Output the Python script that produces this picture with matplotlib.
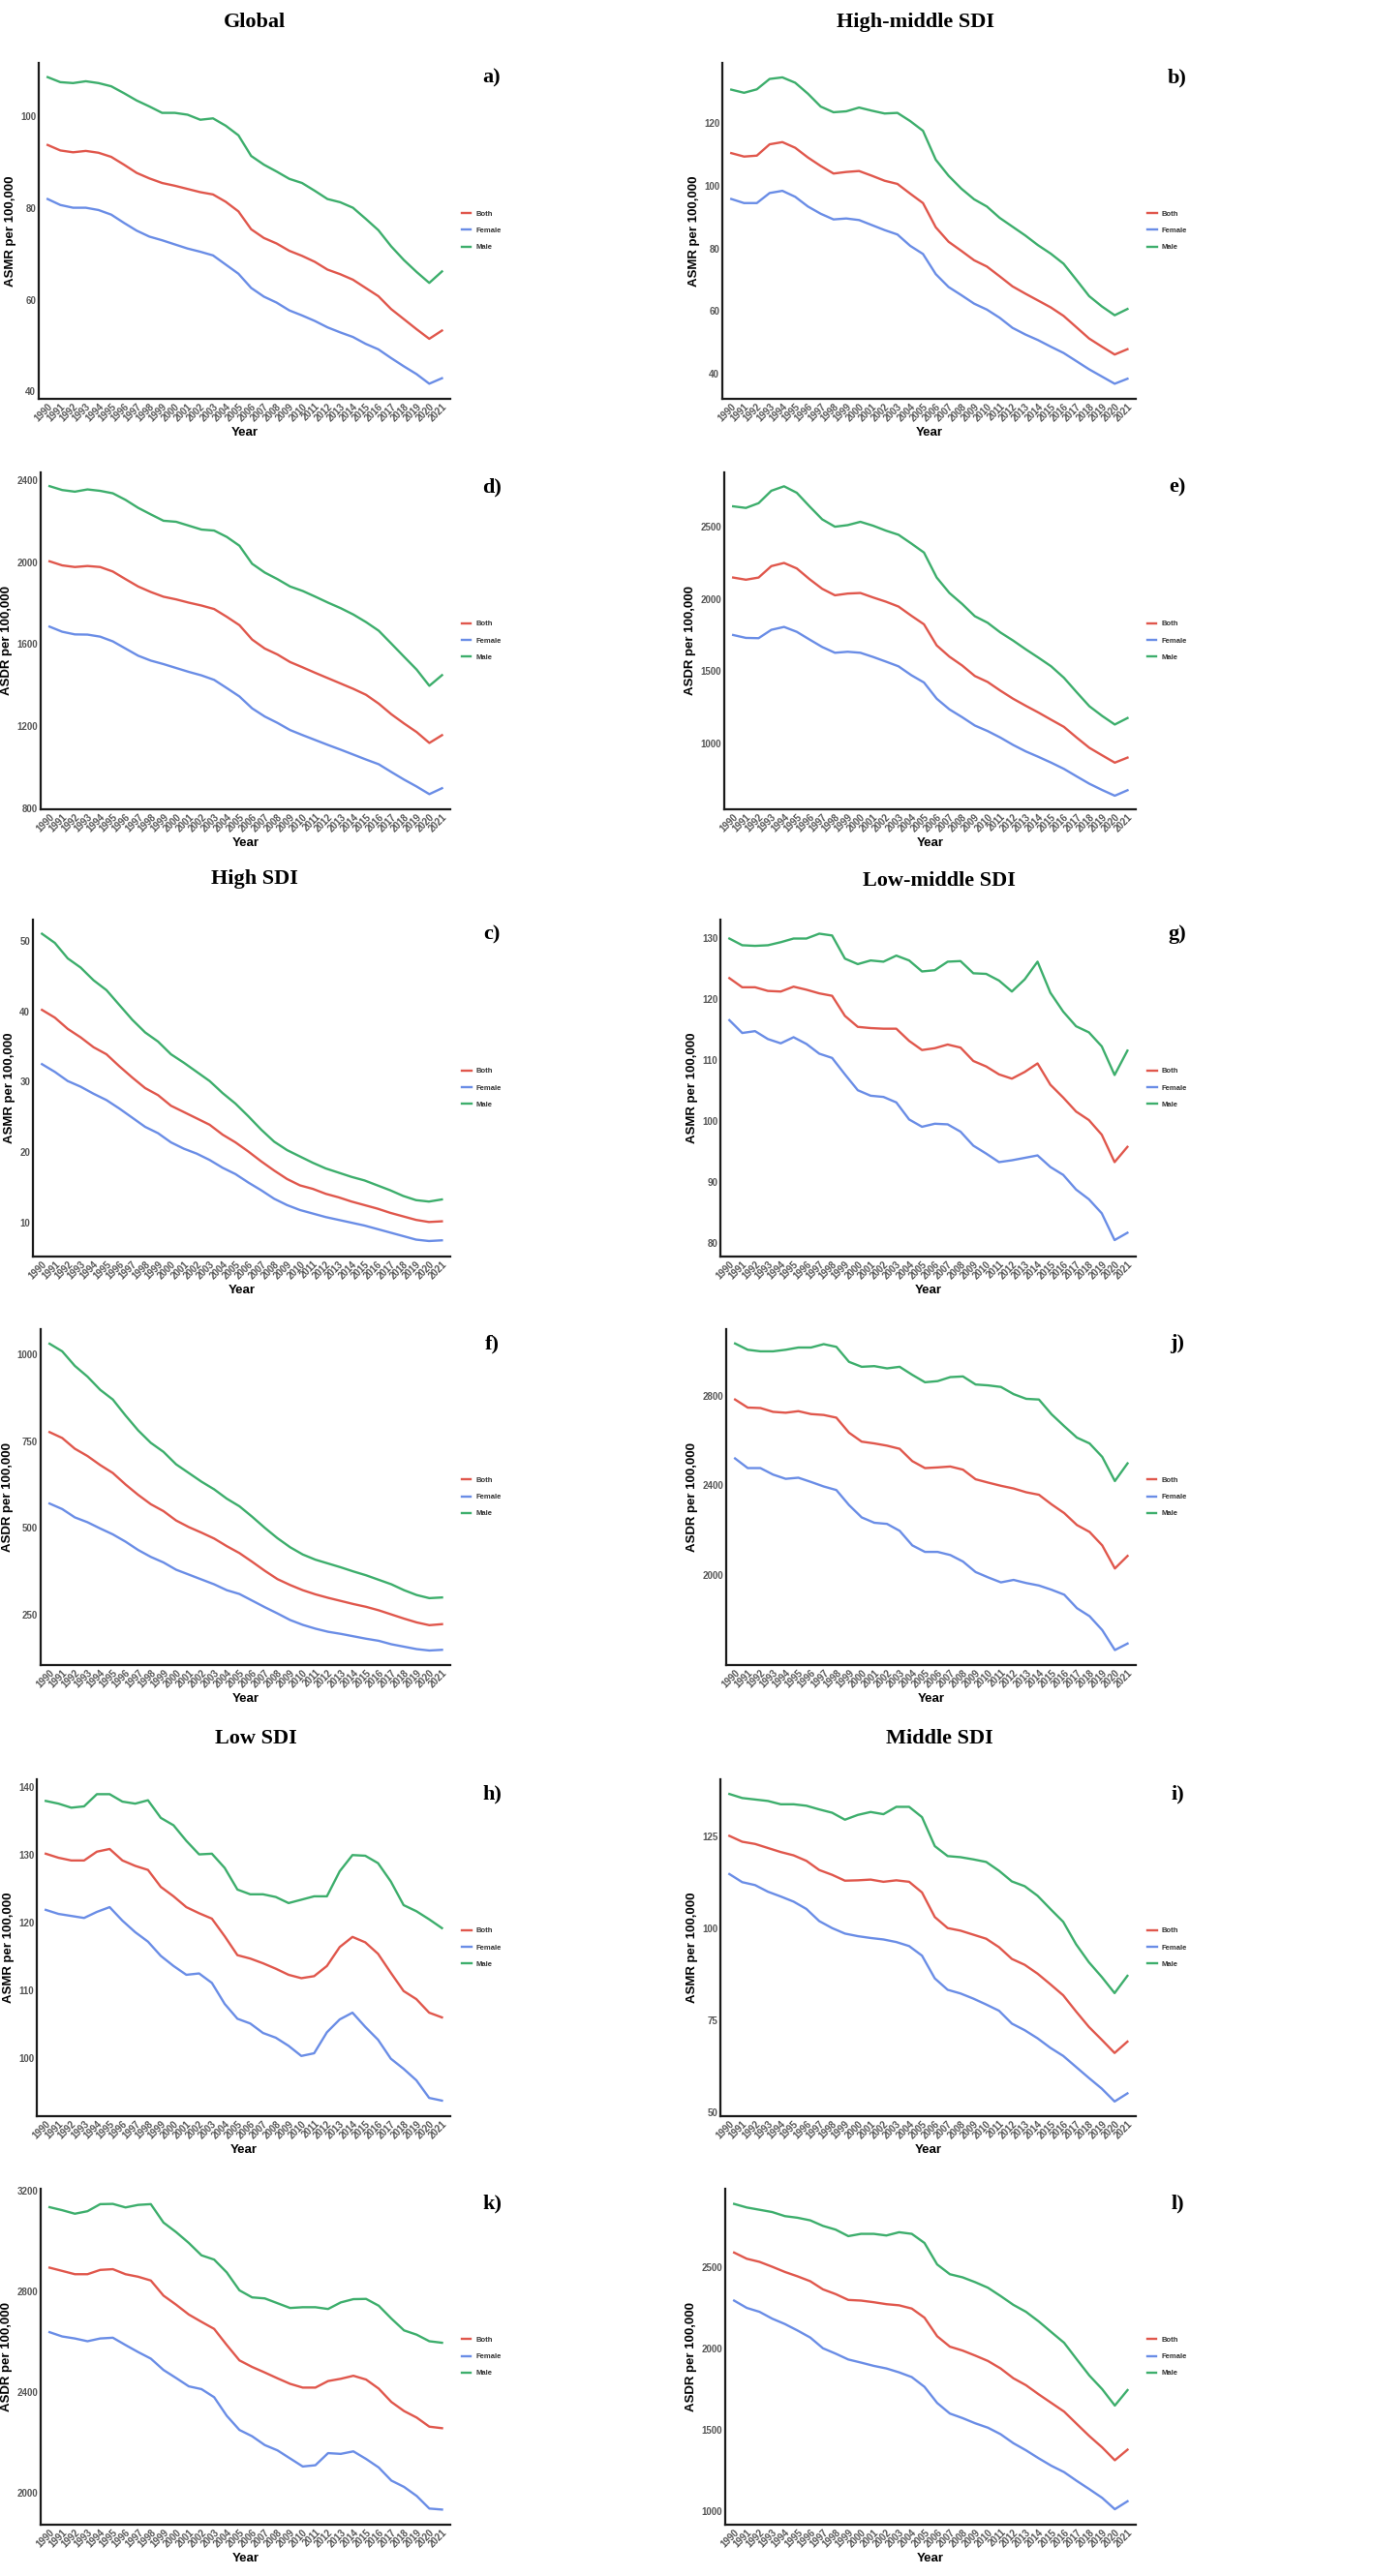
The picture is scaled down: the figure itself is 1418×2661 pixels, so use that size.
import matplotlib
matplotlib.use("Agg")
import matplotlib.pyplot as plt

years = list(range(1990, 2022))

# Global
glob_asmr_both = [93.8, 92.6, 92.2, 92.5, 92.1, 91.2, 89.5, 87.7, 86.5, 85.5, 84.9, 84.2, 83.5, 83.0, 81.4, 79.3,
                  75.4, 73.5, 72.3, 70.7, 69.6, 68.3, 66.6, 65.6, 64.4, 62.6, 60.8, 58.0, 55.8, 53.6, 51.5, 53.3]
glob_asmr_female = [82.0, 80.7, 80.1, 80.1, 79.6, 78.6, 76.8, 75.1, 73.8, 73.0, 72.1, 71.2, 70.5, 69.7, 67.7, 65.7,
                    62.6, 60.7, 59.4, 57.7, 56.6, 55.4, 54.0, 52.9, 51.9, 50.4, 49.2, 47.3, 45.5, 43.8, 41.7, 42.9]
glob_asmr_male = [108.6, 107.5, 107.3, 107.7, 107.3, 106.6, 105.1, 103.5, 102.2, 100.8, 100.8, 100.4, 99.3, 99.6, 98.0, 95.9,
                  91.4, 89.5, 88.0, 86.4, 85.5, 83.8, 82.0, 81.3, 80.1, 77.7, 75.2, 71.7, 68.7, 66.1, 63.7, 66.2]
glob_asdr_both = [2005, 1985, 1977, 1982, 1977, 1955, 1918, 1882, 1855, 1832, 1819, 1803, 1789, 1772, 1734, 1693,
                  1623, 1579, 1550, 1513, 1487, 1460, 1434, 1408, 1382, 1353, 1310, 1258, 1213, 1171, 1118, 1156]
glob_asdr_female = [1686, 1661, 1648, 1647, 1637, 1614, 1579, 1544, 1520, 1503, 1484, 1465, 1448, 1426, 1386, 1345,
                    1287, 1247, 1216, 1181, 1156, 1132, 1108, 1085, 1061, 1037, 1014, 976, 939, 905, 868, 897]
glob_asdr_male = [2372, 2353, 2345, 2356, 2349, 2337, 2305, 2266, 2234, 2203, 2198, 2179, 2160, 2155, 2124, 2081,
                  1993, 1950, 1918, 1882, 1860, 1832, 1803, 1776, 1745, 1708, 1666, 1603, 1539, 1476, 1397, 1449]

# High-middle SDI
hm_asmr_both = [110.3, 109.2, 109.5, 113.1, 113.8, 112.0, 108.9, 106.2, 103.8, 104.3, 104.6, 103.1, 101.5, 100.5, 97.4, 94.4,
                86.7, 82.1, 79.2, 76.2, 74.2, 71.1, 67.9, 65.6, 63.4, 61.2, 58.5, 54.9, 51.3, 48.7, 46.2, 47.9]
hm_asmr_female = [95.7, 94.4, 94.4, 97.6, 98.3, 96.4, 93.3, 91.0, 89.2, 89.5, 89.0, 87.4, 85.8, 84.4, 80.8, 78.2,
                  71.8, 67.7, 65.1, 62.4, 60.5, 57.9, 54.7, 52.6, 50.8, 48.7, 46.7, 44.1, 41.5, 39.2, 36.9, 38.5]
hm_asmr_male = [130.5, 129.5, 130.6, 133.9, 134.4, 132.7, 129.2, 125.1, 123.3, 123.6, 124.8, 123.8, 122.9, 123.1, 120.5, 117.4,
                108.2, 103.1, 99.0, 95.6, 93.3, 89.7, 86.9, 84.1, 81.0, 78.3, 75.1, 70.0, 64.8, 61.5, 58.7, 60.7]
hm_asdr_both = [2148, 2133, 2148, 2227, 2249, 2211, 2137, 2070, 2025, 2037, 2041, 2010, 1981, 1947, 1884, 1824,
                1678, 1600, 1539, 1466, 1425, 1365, 1309, 1260, 1213, 1163, 1114, 1040, 969, 917, 866, 901]
hm_asdr_female = [1750, 1730, 1728, 1786, 1806, 1772, 1719, 1667, 1627, 1634, 1627, 1598, 1566, 1533, 1472, 1421,
                  1309, 1235, 1181, 1123, 1085, 1040, 989, 944, 906, 866, 823, 771, 720, 677, 637, 675]
hm_asdr_male = [2641, 2630, 2663, 2749, 2780, 2735, 2641, 2551, 2500, 2511, 2534, 2507, 2473, 2444, 2384, 2321,
                2148, 2041, 1965, 1880, 1835, 1768, 1712, 1651, 1593, 1533, 1454, 1354, 1257, 1190, 1130, 1175]

# High SDI
hi_asmr_both = [40.2, 39.1, 37.5, 36.3, 34.9, 33.9, 32.2, 30.6, 29.1, 28.1, 26.6, 25.7, 24.8, 23.9, 22.5, 21.4,
                20.1, 18.7, 17.4, 16.2, 15.3, 14.8, 14.1, 13.6, 13.0, 12.5, 12.0, 11.4, 10.9, 10.4, 10.1, 10.2]
hi_asmr_female = [32.5, 31.4, 30.1, 29.3, 28.3, 27.4, 26.2, 24.9, 23.6, 22.7, 21.4, 20.5, 19.8, 18.9, 17.8, 16.9,
                  15.7, 14.6, 13.4, 12.5, 11.8, 11.3, 10.8, 10.4, 10.0, 9.6, 9.1, 8.6, 8.1, 7.6, 7.4, 7.5]
hi_asmr_male = [51.0, 49.7, 47.5, 46.2, 44.4, 43.0, 40.9, 38.8, 37.0, 35.7, 33.9, 32.7, 31.4, 30.1, 28.4, 26.9,
                25.1, 23.2, 21.5, 20.3, 19.4, 18.5, 17.7, 17.1, 16.5, 16.0, 15.3, 14.6, 13.8, 13.2, 13.0, 13.3]
hi_asdr_both = [776, 759, 728, 707, 681, 658, 625, 595, 568, 548, 521, 502, 486, 469, 447, 427,
                402, 376, 352, 335, 320, 308, 298, 289, 280, 272, 262, 250, 238, 227, 219, 222]
hi_asdr_female = [570, 554, 530, 516, 498, 481, 460, 436, 416, 400, 379, 365, 351, 337, 320, 309,
                  290, 271, 253, 234, 220, 209, 200, 194, 187, 180, 174, 164, 157, 150, 146, 148]
hi_asdr_male = [1031, 1009, 967, 936, 898, 870, 824, 781, 745, 719, 683, 658, 633, 611, 584, 562,
                532, 500, 470, 444, 423, 408, 397, 386, 374, 363, 350, 337, 320, 306, 297, 299]

# Low-middle SDI
lm_asmr_both = [123.4, 121.9, 121.9, 121.3, 121.2, 122.0, 121.5, 120.9, 120.5, 117.2, 115.4, 115.2, 115.1, 115.1, 113.1, 111.6,
                111.9, 112.5, 112.0, 109.8, 108.9, 107.6, 106.9, 108.0, 109.4, 105.9, 103.8, 101.5, 100.1, 97.7, 93.2, 95.7]
lm_asmr_female = [116.5, 114.4, 114.7, 113.4, 112.7, 113.7, 112.6, 111.0, 110.3, 107.6, 105.0, 104.1, 103.9, 103.0, 100.2, 99.0,
                  99.5, 99.4, 98.2, 95.9, 94.6, 93.2, 93.5, 93.9, 94.3, 92.4, 91.1, 88.7, 87.1, 84.8, 80.4, 81.6]
lm_asmr_male = [129.9, 128.8, 128.7, 128.8, 129.3, 129.9, 129.9, 130.7, 130.4, 126.6, 125.7, 126.3, 126.1, 127.1, 126.3, 124.5,
                124.7, 126.1, 126.2, 124.2, 124.1, 123.0, 121.2, 123.2, 126.1, 121.0, 117.9, 115.5, 114.5, 112.2, 107.5, 111.5]
lm_asdr_both = [2783, 2747, 2745, 2728, 2724, 2731, 2718, 2714, 2702, 2635, 2595, 2587, 2577, 2563, 2508, 2477,
                2480, 2484, 2470, 2427, 2412, 2398, 2386, 2369, 2358, 2315, 2276, 2223, 2192, 2132, 2029, 2085]
lm_asdr_female = [2520, 2477, 2477, 2448, 2429, 2434, 2415, 2395, 2379, 2312, 2257, 2233, 2228, 2197, 2132, 2103,
                  2103, 2089, 2060, 2013, 1989, 1967, 1978, 1964, 1953, 1934, 1912, 1852, 1816, 1754, 1665, 1694]
lm_asdr_male = [3033, 3005, 2998, 2998, 3005, 3015, 3015, 3030, 3018, 2951, 2929, 2932, 2922, 2929, 2893, 2860,
                2865, 2883, 2886, 2850, 2846, 2839, 2807, 2786, 2783, 2717, 2664, 2613, 2587, 2527, 2419, 2498]

# Low SDI
lo_asmr_both = [130.2, 129.6, 129.2, 129.2, 130.5, 130.9, 129.2, 128.4, 127.8, 125.3, 123.9, 122.3, 121.4, 120.6, 118.0, 115.2,
                114.7, 114.0, 113.2, 112.3, 111.8, 112.1, 113.6, 116.4, 117.9, 117.1, 115.4, 112.6, 109.9, 108.7, 106.7, 106.0]
lo_asmr_female = [121.9, 121.3, 121.0, 120.7, 121.6, 122.3, 120.3, 118.6, 117.2, 115.1, 113.6, 112.3, 112.5, 111.1, 108.0, 105.8,
                  105.1, 103.7, 103.0, 101.8, 100.3, 100.7, 103.8, 105.7, 106.7, 104.6, 102.7, 99.9, 98.4, 96.7, 94.1, 93.7]
lo_asmr_male = [138.0, 137.6, 137.0, 137.2, 139.0, 139.0, 137.9, 137.6, 138.1, 135.5, 134.4, 132.1, 130.1, 130.2, 128.1, 124.9,
                124.2, 124.2, 123.8, 122.9, 123.4, 123.9, 123.9, 127.6, 130.0, 129.9, 128.8, 126.1, 122.6, 121.7, 120.5, 119.2]
lo_asdr_both = [2893, 2880, 2867, 2867, 2884, 2887, 2867, 2857, 2842, 2782, 2746, 2707, 2678, 2650, 2586, 2525,
                2499, 2477, 2454, 2432, 2417, 2417, 2443, 2452, 2464, 2449, 2413, 2360, 2324, 2298, 2262, 2256]
lo_asdr_female = [2637, 2620, 2612, 2601, 2612, 2615, 2586, 2558, 2532, 2487, 2455, 2422, 2411, 2379, 2305, 2249,
                  2224, 2189, 2168, 2136, 2104, 2109, 2157, 2154, 2164, 2134, 2100, 2048, 2023, 1987, 1937, 1933]
lo_asdr_male = [3133, 3121, 3107, 3117, 3145, 3146, 3132, 3142, 3145, 3072, 3034, 2991, 2942, 2925, 2874, 2803,
                2775, 2771, 2752, 2733, 2736, 2736, 2729, 2755, 2768, 2769, 2742, 2691, 2644, 2627, 2601, 2595]

# Middle SDI
mi_asmr_both = [125.2, 123.6, 123.0, 121.9, 120.8, 119.9, 118.4, 115.9, 114.6, 113.0, 113.1, 113.3, 112.7, 113.1, 112.7, 109.8,
                103.1, 100.1, 99.4, 98.3, 97.2, 94.9, 91.7, 90.1, 87.7, 84.8, 81.8, 77.4, 73.2, 69.7, 66.1, 69.2]
mi_asmr_female = [114.8, 112.6, 111.8, 110.0, 108.7, 107.3, 105.3, 102.0, 100.1, 98.6, 97.9, 97.4, 97.0, 96.3, 95.2, 92.6,
                  86.4, 83.3, 82.3, 80.9, 79.3, 77.6, 74.1, 72.3, 70.1, 67.5, 65.3, 62.3, 59.3, 56.4, 52.9, 55.1]
mi_asmr_male = [136.6, 135.5, 135.1, 134.7, 133.8, 133.8, 133.4, 132.4, 131.5, 129.6, 130.9, 131.7, 131.1, 133.1, 133.1, 130.3,
                122.4, 119.7, 119.4, 118.8, 118.1, 115.7, 112.8, 111.5, 108.9, 105.3, 101.8, 95.7, 90.8, 86.8, 82.4, 87.1]
mi_asdr_both = [2587, 2549, 2530, 2500, 2468, 2441, 2411, 2361, 2332, 2296, 2292, 2282, 2270, 2263, 2243, 2187,
                2073, 2009, 1985, 1954, 1921, 1875, 1815, 1772, 1716, 1663, 1610, 1534, 1459, 1390, 1311, 1376]
mi_asdr_female = [2292, 2247, 2223, 2181, 2148, 2108, 2065, 1999, 1966, 1930, 1911, 1891, 1875, 1851, 1822, 1762,
                  1663, 1598, 1570, 1538, 1511, 1471, 1416, 1372, 1323, 1277, 1238, 1184, 1133, 1080, 1010, 1059]
mi_asdr_male = [2886, 2864, 2850, 2836, 2811, 2801, 2785, 2751, 2728, 2688, 2702, 2702, 2692, 2712, 2702, 2646,
                2514, 2454, 2435, 2405, 2371, 2320, 2266, 2223, 2164, 2098, 2033, 1931, 1831, 1748, 1647, 1742]

titles = [("Global", 263, 23), ("High-middle SDI", 945, 23),
          ("High SDI", 263, 908), ("Low-middle SDI", 970, 910),
          ("Low SDI", 264, 1796), ("Middle SDI", 970, 1796)]

plt.rcParams['font.family'] = ['Liberation Sans', 'DejaVu Sans']

W, H = 1418, 2661
fig = plt.figure(figsize=(W / 100, H / 100), dpi=100)

C_BOTH = "#E0574C"
C_FEMALE = "#6A8DE6"
C_MALE = "#3DAE6C"


def add_panel(box, ylim, yticks, ylabel, both, female, male, tag):
    x0, y0, x1, y1 = box
    ax = fig.add_axes([x0 / W, 1 - y1 / H, (x1 - x0) / W, (y1 - y0) / H])
    ax.plot(years, both, color=C_BOTH, lw=1.7, label="Both")
    ax.plot(years, female, color=C_FEMALE, lw=1.7, label="Female")
    ax.plot(years, male, color=C_MALE, lw=1.7, label="Male")
    ax.set_xlim(1989.3, 2021.65)
    ax.set_ylim(*ylim)
    ax.set_yticks(yticks)
    ax.set_xticks(years)
    ax.set_xticklabels([str(y) for y in years], rotation=45, ha="right",
                       rotation_mode="anchor")
    for s in ["top", "right"]:
        ax.spines[s].set_visible(False)
    for s in ["left", "bottom"]:
        ax.spines[s].set_linewidth(1.6)
        ax.spines[s].set_color("#1a1a1a")
    ax.tick_params(length=0, pad=2, labelsize=7, labelcolor="#555555")
    for lab in ax.get_xticklabels() + ax.get_yticklabels():
        lab.set_fontweight("bold")
    ax.set_xlabel("Year", fontsize=9.5, fontweight="bold", labelpad=3)
    ax.set_ylabel(ylabel, fontsize=9.5, fontweight="bold", labelpad=3)
    leg = ax.legend(loc="center left", bbox_to_anchor=(1.02, 0.5), frameon=False,
                    fontsize=5.5, handlelength=1.3, handletextpad=0.6,
                    labelspacing=1.3, borderaxespad=0)
    for t in leg.get_texts():
        t.set_color("#333333")
        t.set_fontweight("bold")
    fig.text((x1 + 43) / W, 1 - (y0 + 15) / H, tag, fontsize=16, fontweight="bold",
             family="Liberation Serif", ha="center", va="center")
    return ax


add_panel((40, 65, 465, 412), (38.4, 111.7), [40, 60, 80, 100], "ASMR per 100,000",
          glob_asmr_both, glob_asmr_female, glob_asmr_male, "a)")
add_panel((746, 65, 1173, 412), (32.1, 139.0), [40, 60, 80, 100, 120], "ASMR per 100,000",
          hm_asmr_both, hm_asmr_female, hm_asmr_male, "b)")
add_panel((42, 488, 465, 836), (794, 2439), [800, 1200, 1600, 2000, 2400], "ASDR per 100,000",
          glob_asdr_both, glob_asdr_female, glob_asdr_male, "d)")
add_panel((748, 488, 1173, 836), (543, 2876), [1000, 1500, 2000, 2500], "ASDR per 100,000",
          hm_asdr_both, hm_asdr_female, hm_asdr_male, "e)")
add_panel((34, 950, 465, 1298), (5.2, 53.0), [10, 20, 30, 40, 50], "ASMR per 100,000",
          hi_asmr_both, hi_asmr_female, hi_asmr_male, "c)")
add_panel((744, 950, 1173, 1298), (77.7, 133.0), [80, 90, 100, 110, 120, 130], "ASMR per 100,000",
          lm_asmr_both, lm_asmr_female, lm_asmr_male, "g)")
add_panel((42, 1373, 465, 1720), (104, 1073), [250, 500, 750, 1000], "ASDR per 100,000",
          hi_asdr_both, hi_asdr_female, hi_asdr_male, "f)")
add_panel((750, 1373, 1173, 1720), (1598, 3097), [2000, 2400, 2800], "ASDR per 100,000",
          lm_asdr_both, lm_asdr_female, lm_asdr_male, "j)")
add_panel((38, 1838, 465, 2186), (91.4, 141.2), [100, 110, 120, 130, 140], "ASMR per 100,000",
          lo_asmr_both, lo_asmr_female, lo_asmr_male, "h)")
add_panel((744, 1838, 1173, 2186), (48.9, 140.6), [50, 75, 100, 125], "ASMR per 100,000",
          mi_asmr_both, mi_asmr_female, mi_asmr_male, "i)")
add_panel((42, 2261, 465, 2608), (1873, 3206), [2000, 2400, 2800, 3200], "ASDR per 100,000",
          lo_asdr_both, lo_asdr_female, lo_asdr_male, "k)")
add_panel((749, 2261, 1173, 2608), (915, 2979), [1000, 1500, 2000, 2500], "ASDR per 100,000",
          mi_asdr_both, mi_asdr_female, mi_asdr_male, "l)")

for name, tx, ty in titles:
    fig.text(tx / W, 1 - ty / H, name, fontsize=16, fontweight="bold",
             family="Liberation Serif", ha="center", va="center")

fig.savefig("out.png", dpi=100, facecolor="white")
